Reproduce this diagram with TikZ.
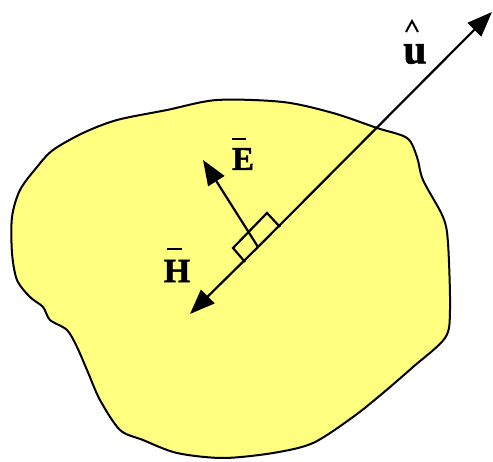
\documentclass[tikz,border=0pt]{standalone}
\usepackage{fontspec}
\setmainfont{Liberation Serif}
\newfontface\lblfont{Liberation Serif Bold}[FakeBold=1.5]
\usetikzlibrary{arrows.meta}
\definecolor{blobyellow}{RGB}{255,255,128}
\tikzset{
  vec/.style={line width=2.2pt,-{Triangle[length=25pt,width=19pt]}},
  lbl/.style={font=\fontsize{33}{33}\selectfont\lblfont, inner sep=0pt},
  bar/.style={line width=2pt},
}
\begin{document}
\begin{tikzpicture}[x=1pt,y=-1pt]
\useasboundingbox (0,0) rectangle (493,462);
% blob
\draw[line width=2pt, fill=blobyellow] plot[smooth cycle, tension=0.5] coordinates {
 (167,110) (217,100) (283,102) (333,113) (377,128) (407,138) (417,157) (423,180)
 (443,217) (448,243) (450,310) (445,338) (413,367) (383,393) (353,417) (313,443)
 (273,453) (223,458) (177,453) (143,440) (120,430) (100,400) (87,370) (77,347)
 (67,330) (50,320) (43,307) (30,297) (17,280) (12,253) (12,217) (20,190) (37,167)
 (53,150) (83,133) (117,120)};
% coordinates
\coordinate (htip) at (190,314);
\coordinate (utip) at (492,12);
\coordinate (foot) at (258,247);
\coordinate (etip) at (203,160);
\coordinate (b1) at (245,262);
\coordinate (b2) at (233,248);
\coordinate (b3) at (267,213);
\coordinate (b4) at (280,227);
% vectors
\draw[vec] (foot) -- (htip);
\draw[vec] (foot) -- (utip);
\draw[vec] (foot) -- (etip);
\draw[line width=2.2pt] (b1) -- (b2) -- (b3) -- (b4);
% labels
\node[lbl] (E) at (243,159) {E};
\node[lbl, font=\fontsize{34}{34}\selectfont\lblfont] (H) at (177,271) {H};
\node[lbl, font=\fontsize{42}{42}\selectfont\lblfont] (u) at (415,54) {u};
\coordinate (ebl) at (232,139);
\coordinate (ebr) at (246,139);
\coordinate (hbl) at (167,249);
\coordinate (hbr) at (182,249);
\draw[bar] (ebl) -- (ebr);
\draw[bar] (hbl) -- (hbr);
\coordinate (hatl) at (406,32);
\coordinate (hatt) at (412,21);
\coordinate (hatr) at (418,32);
\draw[line width=2pt] (hatl) -- (hatt) -- (hatr);
\end{tikzpicture}
\end{document}
